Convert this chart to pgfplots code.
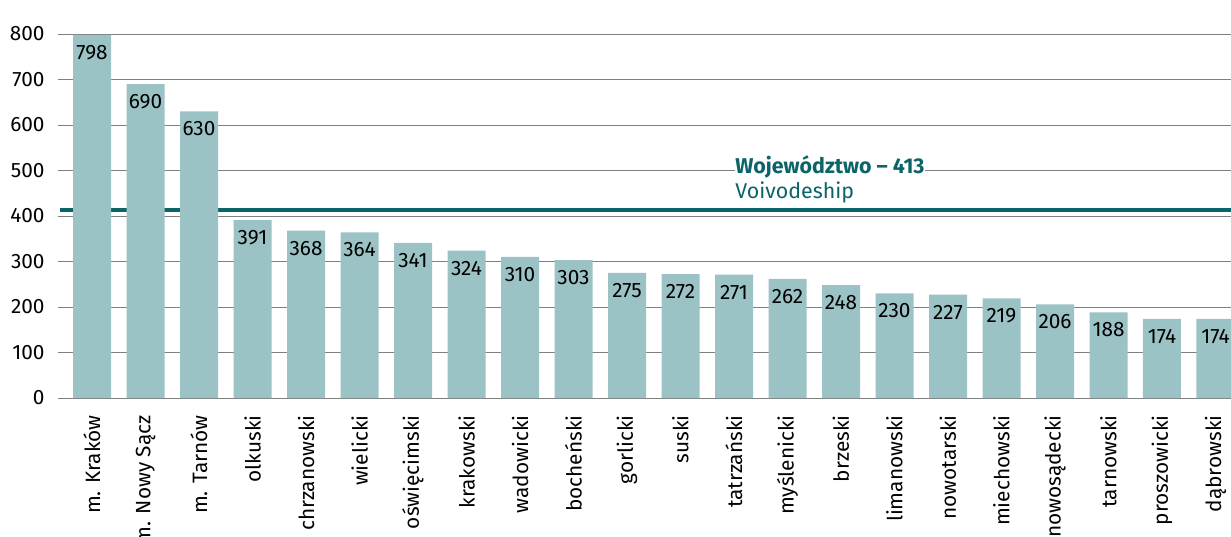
\documentclass[border=0pt]{standalone}
\usepackage{pgfplots}
\pgfplotsset{compat=1.18}
\usepackage{fontspec}
\setmainfont{Fira Sans}
\definecolor{barc}{RGB}{155,194,196}
\definecolor{tealc}{RGB}{11,100,103}
\definecolor{gridc}{RGB}{128,128,128}
\newcommand{\lbl}{\fontsize{10.4pt}{12pt}\selectfont}
\begin{document}
\begin{tikzpicture}[x=1pt,y=1pt]
\begin{axis}[
  at={(0,0)}, anchor=south west,
  scale only axis, width=586.5pt, height=182pt,
  xmin=-0.636, xmax=21.29, ymin=0, ymax=800,
  axis line style={draw=none},
  ytick={0,100,...,800},
  ymajorgrids, grid style={gridc, line width=0.5pt},
  major tick length=0pt,
  xtick={0,...,21},
  xticklabels={m. Kraków, m. Nowy Sącz, m. Tarnów, olkuski, chrzanowski, wielicki, oświęcimski, krakowski, wadowicki, bocheński, gorlicki, suski, tatrzański, myślenicki, brzeski, limanowski, nowotarski, miechowski, nowosądecki, tarnowski, proszowicki, dąbrowski},
  xticklabel style={yshift=-8.5pt, rotate=90, anchor=east, inner sep=0pt, font=\lbl},
  yticklabel style={anchor=east, inner sep=0pt, xshift=-6.5pt, font=\lbl},
  /pgf/number format/assume math mode=true,
  clip=false,
  bar width=19pt,
]
\addplot[tealc, line width=2pt, forget plot] coordinates {(-0.6,413) (21.29,413)};
\addplot[ybar, fill=barc, draw=none, bar shift=0pt,
  nodes near coords,
  every node near coord/.append style={anchor=north, yshift=-5pt, inner sep=0pt, font=\lbl, text=black}]
  coordinates {(0,798) (1,690) (2,630) (3,391) (4,368) (5,364) (6,341) (7,324) (8,310) (9,303) (10,275) (11,272) (12,271) (13,262) (14,248) (15,230) (16,227) (17,219) (18,206) (19,188) (20,174) (21,174)};
\node[anchor=base west, fill=white, inner xsep=0pt, inner ysep=1pt, text=tealc, font=\fontsize{10.7pt}{12pt}\selectfont\bfseries] at (axis cs:12.02,413) [yshift=18.5pt] {Województwo – 413};
\node[anchor=base west, inner xsep=0pt, inner ysep=1pt, text=tealc, font=\fontsize{10.7pt}{12pt}\selectfont] at (axis cs:12.02,413) [yshift=6pt] {Voivodeship};
\end{axis}
\pgfresetboundingbox
\useasboundingbox (-29pt,-69pt) rectangle (586.5pt,199pt);
\end{tikzpicture}
\end{document}
